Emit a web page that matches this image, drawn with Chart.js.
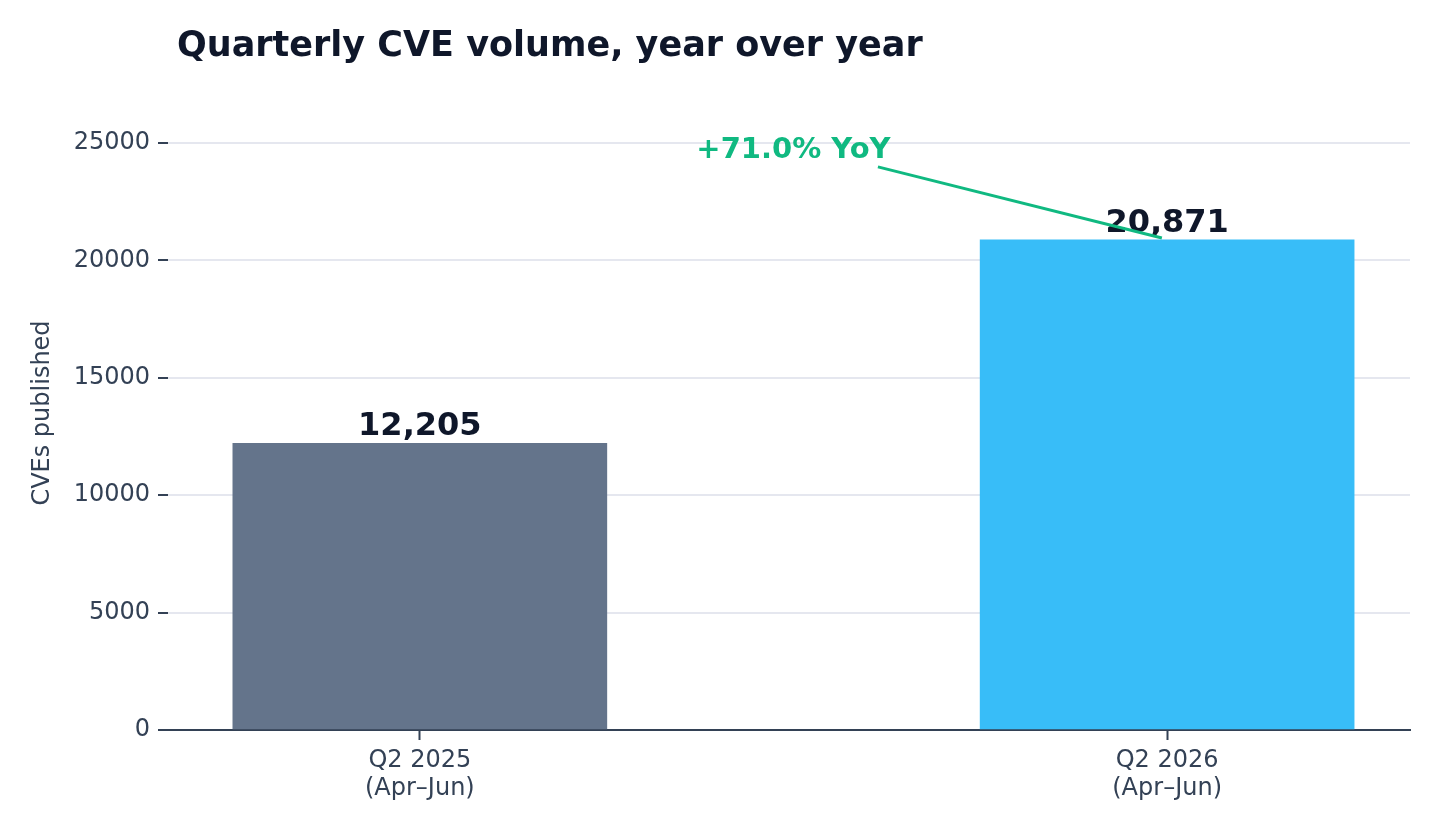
<!DOCTYPE html>
<html><head><meta charset="utf-8">
<script src="https://cdn.jsdelivr.net/npm/chart.js@4"></script>
<style>html,body{margin:0;padding:0;background:#fff}#w{width:1440px;height:840px}</style>
</head><body><div id="w"><canvas id="c"></canvas></div>
<script>
const categories = [["Q2 2025","(Apr–Jun)"],["Q2 2026","(Apr–Jun)"]];
const values = [12205, 20871];
const barColors = ["#64748b", "#38bdf8"];
const yTicks = [0,5000,10000,15000,20000,25000];
const yoyLabel = "+71.0% YoY";
const F = "'DejaVu Sans', sans-serif";

const overlay = {
  id:'overlay',
  afterDatasetsDraw(chart){
    const {ctx, scales:{x,y}} = chart;
    ctx.save();
    ctx.fillStyle='#0f172a'; ctx.font='bold 32px '+F; ctx.textAlign='center'; ctx.textBaseline='alphabetic';
    values.forEach((v,i)=>ctx.fillText(v.toLocaleString('en-US'), x.getPixelForValue(i), y.getPixelForValue(v)-8));
    ctx.strokeStyle='#10b981'; ctx.lineWidth=3;
    ctx.beginPath(); ctx.moveTo(x.getPixelForValue(0.613), y.getPixelForValue(23980));
    ctx.lineTo(x.getPixelForValue(0.993), y.getPixelForValue(20950)); ctx.stroke();
    ctx.fillStyle='#10b981'; ctx.font='bold 29px '+F; ctx.textBaseline='middle';
    ctx.fillText(yoyLabel, x.getPixelForValue(0.5), y.getPixelForValue(24700));
    ctx.fillStyle='#0f172a'; ctx.font='bold 35px '+F; ctx.textAlign='left';
    ctx.fillText('Quarterly CVE volume, year over year', 177, 47);
    ctx.restore();
  }
};

new Chart(document.getElementById('c'), {
  type:'bar',
  data:{datasets:[{data: values.map((v,i)=>({x:i,y:v})), backgroundColor:barColors, barThickness:374}]},
  options:{
    responsive:true, maintainAspectRatio:false, animation:false,
    layout:{padding:{top:96,right:30,left:0,bottom:0}},
    plugins:{legend:{display:false},tooltip:{enabled:false},title:{display:false}},
    scales:{
      x:{type:'linear', min:-0.337, max:1.325, offset:false,
        afterBuildTicks(s){s.ticks=[{value:0},{value:1}];},
        afterFit(s){s.height=110;},
        ticks:{callback:(v)=>categories[v], color:'#334155', font:{family:F,size:24}, padding:6, maxRotation:0, autoSkip:false},
        grid:{display:true, offset:false, drawOnChartArea:false, tickLength:10, tickColor:'#334155', tickWidth:2},
        border:{display:true,color:'#334155',width:2}},
      y:{min:0, max:27000,
        afterBuildTicks(s){s.ticks=yTicks.map(v=>({value:v}));},
        afterFit(s){s.width=168;},
        ticks:{callback:(v)=>String(v), color:'#334155', font:{family:F,size:24}, padding:8},
        grid:{color:'#e5e7ef', lineWidth:2, tickLength:10, tickColor:'#334155', tickWidth:2},
        border:{display:false},
        title:{display:true, text:'CVEs published', color:'#334155', font:{family:F,size:24}, padding:{top:28,bottom:0}}}
    }
  },
  plugins:[overlay]
});
</script></body></html>
